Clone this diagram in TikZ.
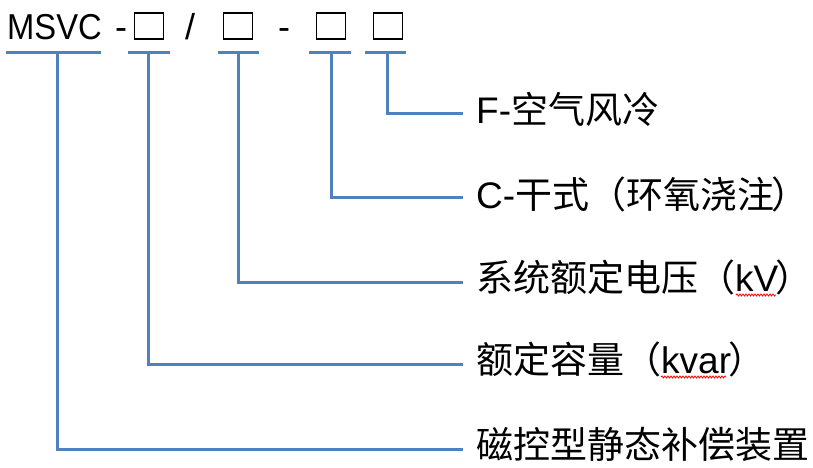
\documentclass[tikz,border=0pt]{standalone}
\usepackage{fontspec}
\setmainfont{Liberation Sans}
\newfontfamily\cjk{Noto Sans CJK SC}
\usetikzlibrary{decorations.pathmorphing}
\definecolor{lineblue}{HTML}{4F81BD}
\newcommand{\closep}{\kern-0.08em{\cjk ）}\kern-0.55em}
\tikzset{
  conn/.style={draw=lineblue, line width=3pt},
  codebox/.style={draw=black, line width=1.6pt, minimum width=29pt, minimum height=26pt, inner sep=0pt},
  toptext/.style={inner sep=0pt, font=\fontsize{36}{40}\selectfont},
  lbl/.style={anchor=base west, inner sep=0pt, font=\fontsize{37}{40}\selectfont},
  spell/.style={draw=red, line width=0.8pt, decorate, decoration={snake, amplitude=1pt, segment length=3pt}}
}
\begin{document}
\begin{tikzpicture}[x=1pt, y=-1pt]
\useasboundingbox (0,0) rectangle (813,467);
% top code row
\node[toptext, anchor=base west, xscale=0.91] (msvc) at (7,39) {MSVC};
\node[toptext, anchor=base west] (d1) at (115,39) {-};
\node[codebox] (b1) at (149,26) {};
\node[toptext, anchor=base west] (sl) at (185,39) {/};
\node[codebox] (b2) at (238,26) {};
\node[toptext, anchor=base west] (d2) at (278,39) {-};
\node[codebox] (b3) at (331,26) {};
\node[codebox] (b4) at (388,26) {};
% underlines
\coordinate (m0) at (6,52);   \coordinate (m1) at (101,52);
\coordinate (a0) at (128,52); \coordinate (a1) at (170,52);
\coordinate (c0) at (218,52); \coordinate (c1) at (259,52);
\coordinate (e0) at (309,52); \coordinate (e1) at (351,52);
\coordinate (f0) at (365,52); \coordinate (f1) at (406,52);
\draw[conn] (m0) -- (m1);
\draw[conn] (a0) -- (a1);
\draw[conn] (c0) -- (c1);
\draw[conn] (e0) -- (e1);
\draw[conn] (f0) -- (f1);
% stems
\coordinate (sm) at (57,52);
\coordinate (sa) at (148,52);
\coordinate (sc) at (238,52);
\coordinate (se) at (331,52);
\coordinate (sf) at (387,52);
% line ends
\coordinate (tF) at (463,113);
\coordinate (tC) at (463,197);
\coordinate (tV) at (463,282);
\coordinate (tQ) at (463,364);
\coordinate (tM) at (463,449);
\draw[conn] (sf) |- (tF);
\draw[conn] (se) |- (tC);
\draw[conn] (sc) |- (tV);
\draw[conn] (sa) |- (tQ);
\draw[conn] (sm) |- (tM);
% labels
\node[lbl] (lF) at (476,123) {F-{\cjk 空气风冷}};
\node[lbl] (lC) at (476,208) {C-{\cjk 干式（环氧浇注}\closep};
\node[lbl] (lV) at (476,291) {{\cjk 系统额定电压（}kV\closep};
\node[lbl] (lQ) at (476,373) {{\cjk 额定容量（}kvar\closep};
\node[lbl] (lM) at (476,458) {{\cjk 磁控型静态补偿装置}};
% spell-check marks
\coordinate (w0) at (736,295); \coordinate (w1) at (776,295);
\coordinate (w2) at (661,377); \coordinate (w3) at (726,377);
\draw[spell] (w0) -- (w1);
\draw[spell] (w2) -- (w3);
\end{tikzpicture}
\end{document}
